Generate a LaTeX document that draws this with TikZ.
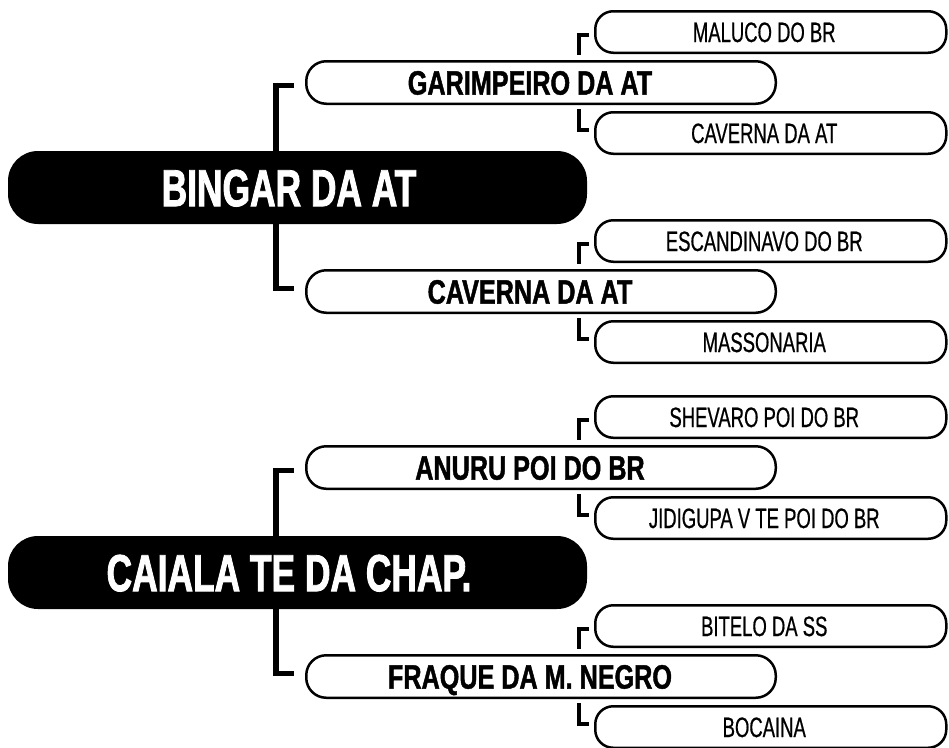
\documentclass[tikz,border=0pt]{standalone}
\usepackage{fontspec}
\newfontfamily\rootfont{Liberation Sans}[FakeStretch=0.68, FakeBold=1.6]
\newfontfamily\midfont{Liberation Sans}[FakeStretch=0.745, FakeBold=1.3]
\newfontfamily\leaffont{Liberation Sans}[FakeStretch=0.66, FakeBold=0.6]
\tikzset{
  rootbox/.style={fill=black, rounded corners=30pt, minimum width=579pt, minimum height=73pt, inner sep=0pt},
  midbox/.style={draw=black, line width=2.5pt, fill=white, rounded corners=20pt, minimum width=469.5pt, minimum height=42.5pt, inner sep=0pt},
  leafbox/.style={draw=black, line width=2.5pt, fill=white, rounded corners=18pt, minimum width=351pt, minimum height=41.5pt, inner sep=0pt},
  roottext/.style={text=white, font=\rootfont\bfseries\fontsize{52}{52}\selectfont, inner sep=0pt, text height=37.2pt, text depth=0pt},
  midtext/.style={font=\midfont\bfseries\fontsize{33.8}{33.8}\selectfont, inner sep=0pt, text height=24.2pt, text depth=0pt},
  leaftext/.style={font=\leaffont\fontsize{28}{28}\selectfont, inner sep=0pt, text height=20pt, text depth=0pt},
  conn/.style={line width=5.5pt, line join=miter},
  brk/.style={line width=4pt, line join=miter},
}
\begin{document}
\begin{tikzpicture}[x=1pt,y=-1pt]
\useasboundingbox (0,0) rectangle (949,747);
\clip (0,0) rectangle (949,747);
\fill[white] (0,0) rectangle (949,747);

% ---------- tree 1 ----------
\node[rootbox] (root1) at (297.5,187.5) {};

\node[midbox] (mid1a) at (541,82.5) {};
\node[midtext] (mid1at) at ([xshift=-11pt]mid1a.center) {GARIMPEIRO DA AT};
\node[midbox] (mid1b) at (541,291.5) {};
\node[midtext] (mid1bt) at ([xshift=-11pt]mid1b.center) {CAVERNA DA AT};

\node[leafbox] (leaf1a) at (770.75,32) {};
\node[leaftext] (leaf1at) at ([xshift=-6.5pt]leaf1a.center) {MALUCO DO BR};
\node[leafbox] (leaf1b) at (770.75,133) {};
\node[leaftext] (leaf1bt) at ([xshift=-6.5pt]leaf1b.center) {CAVERNA DA AT};
\node[leafbox] (leaf1c) at (770.75,241) {};
\node[leaftext] (leaf1ct) at ([xshift=-6.5pt]leaf1c.center) {ESCANDINAVO DO BR};
\node[leafbox] (leaf1d) at (770.75,342) {};
\node[leaftext] (leaf1dt) at ([xshift=-6.5pt]leaf1d.center) {MASSONARIA};

\draw[conn] ([xshift=-11pt,yshift=-3pt]mid1a.west) -| ([xshift=-21.5pt]root1.center) |- ([xshift=-11pt,yshift=3pt]mid1b.west);
\node[roottext] (root1t) at ([xshift=-8.5pt]root1.center) {BINGAR DA AT};

\draw[brk] ([xshift=-5pt,yshift=-3pt]leaf1a.west) -| ([xshift=-14.75pt,yshift=-1pt]leaf1a.south west);
\draw[brk] ([xshift=-14.75pt,yshift=2pt]leaf1b.north west) |- ([xshift=-5pt,yshift=3pt]leaf1b.west);
\draw[brk] ([xshift=-5pt,yshift=-3pt]leaf1c.west) -| ([xshift=-14.75pt,yshift=-1pt]leaf1c.south west);
\draw[brk] ([xshift=-14.75pt,yshift=2pt]leaf1d.north west) |- ([xshift=-5pt,yshift=3pt]leaf1d.west);

% ---------- tree 2 ----------
\node[rootbox] (root2) at (297.5,572.5) {};

\node[midbox] (mid2a) at (541,467.5) {};
\node[midtext] (mid2at) at ([xshift=-11pt]mid2a.center) {ANURU POI DO BR};
\node[midbox] (mid2b) at (541,676.5) {};
\node[midtext] (mid2bt) at ([xshift=-11pt]mid2b.center) {FRAQUE DA M. NEGRO};

\node[leafbox] (leaf2a) at (770.75,417) {};
\node[leaftext] (leaf2at) at ([xshift=-6.5pt]leaf2a.center) {SHEVARO POI DO BR};
\node[leafbox] (leaf2b) at (770.75,518) {};
\node[leaftext] (leaf2bt) at ([xshift=-6.5pt]leaf2b.center) {JIDIGUPA V TE POI DO BR};
\node[leafbox] (leaf2c) at (770.75,626) {};
\node[leaftext] (leaf2ct) at ([xshift=-6.5pt]leaf2c.center) {BITELO DA SS};
\node[leafbox] (leaf2d) at (770.75,727) {};
\node[leaftext] (leaf2dt) at ([xshift=-6.5pt]leaf2d.center) {BOCAINA};

\draw[conn] ([xshift=-11pt,yshift=-3pt]mid2a.west) -| ([xshift=-21.5pt]root2.center) |- ([xshift=-11pt,yshift=3pt]mid2b.west);
\node[roottext] (root2t) at ([xshift=-8.5pt]root2.center) {CAIALA TE DA CHAP.};

\draw[brk] ([xshift=-5pt,yshift=-3pt]leaf2a.west) -| ([xshift=-14.75pt,yshift=-1pt]leaf2a.south west);
\draw[brk] ([xshift=-14.75pt,yshift=2pt]leaf2b.north west) |- ([xshift=-5pt,yshift=3pt]leaf2b.west);
\draw[brk] ([xshift=-5pt,yshift=-3pt]leaf2c.west) -| ([xshift=-14.75pt,yshift=-1pt]leaf2c.south west);
\draw[brk] ([xshift=-14.75pt,yshift=2pt]leaf2d.north west) |- ([xshift=-5pt,yshift=3pt]leaf2d.west);
\end{tikzpicture}
\end{document}
